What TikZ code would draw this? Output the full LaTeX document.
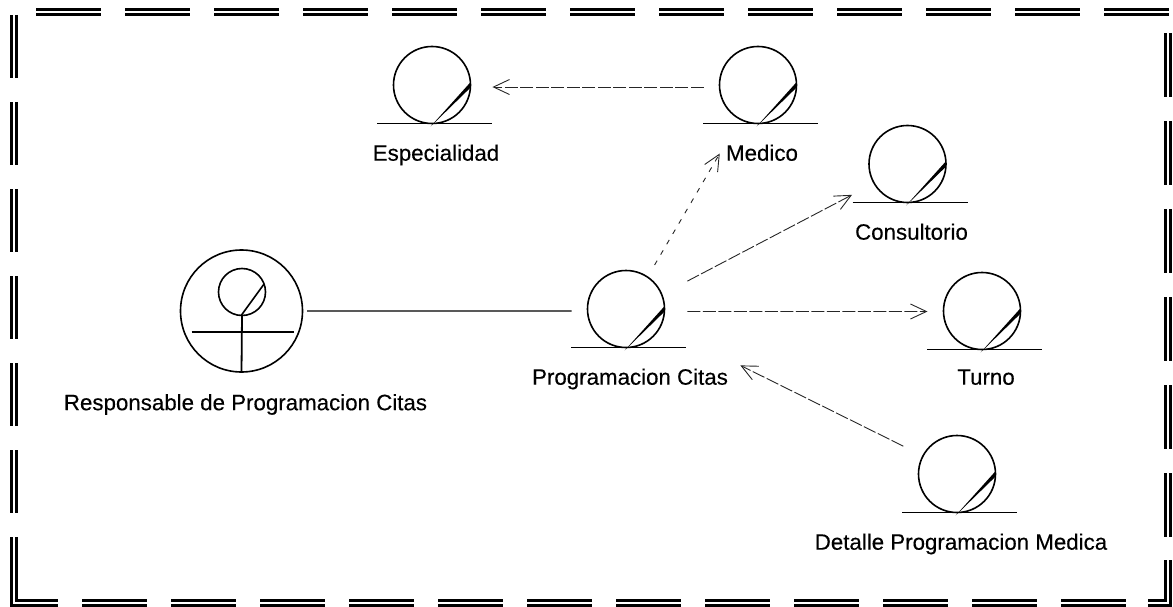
\documentclass[tikz,border=0pt]{standalone}
\usepackage{fontspec}
\setmainfont[FakeBold=0.3]{Liberation Sans}
\usetikzlibrary{arrows.meta,positioning}

\begin{document}
\begin{tikzpicture}[
    x=1pt, y=-1pt,
    node distance=21pt,
    entidad/.style={circle, draw, line width=1.6pt, minimum size=77pt, inner sep=0pt, outer sep=0pt},
    etiqueta/.style={font=\fontsize{22.3}{26}\selectfont, inner sep=0pt, text height=16pt, text depth=5pt, xshift=4pt},
    borde/.style={double, double distance=2pt, line width=3pt},
    base/.style={line width=1.3pt},
    union/.style={line width=1.1pt},
    flecha/.style={-{Straight Barb[length=16pt, width=15pt]}, line width=0.9pt, black!85, dash pattern=on 13pt off 2.5pt}
]
    \useasboundingbox (0,0) rectangle (1173,607);

    % Actor
    \node[entidad, minimum size=122pt] (actor) at (241.5,311) {};
    \node[entidad, minimum size=47pt] (cabeza) at (242,292) {};
    \draw[line width=1.8pt] (cabeza.south) -- (actor.south);
    \draw[line width=1.5pt] ([xshift=-50pt, yshift=-21pt]actor.center) -- ([xshift=52pt, yshift=-21pt]actor.center);
    \draw[line width=1.6pt] (cabeza.-92) -- (cabeza.20);
    \node[etiqueta, below=22pt of actor] (actorlab) {Responsable de Programacion Citas};

    % Entidades
    \node[entidad] (especialidad) at (432,85) {};
    \node[etiqueta, below=of especialidad] (especialidadlab) {Especialidad};
    \node[entidad] (medico) at (758,85) {};
    \node[etiqueta, below=of medico] (medicolab) {Medico};
    \node[entidad] (consultorio) at (907.5,164) {};
    \node[etiqueta, below=of consultorio] (consultoriolab) {Consultorio};
    \node[entidad] (programacion) at (626,309) {};
    \node[etiqueta, below=of programacion] (programacionlab) {Programacion Citas};
    \node[entidad] (turno) at (982,311) {};
    \node[etiqueta, below=19pt of turno] (turnolab) {Turno};
    \node[entidad] (detalle) at (957,474) {};
    \node[etiqueta, below=of detalle] (detallelab) {Detalle Programacion Medica};

    % Base y trazo de cada entidad
    \foreach \n in {especialidad,medico,consultorio,programacion,turno,detalle} {
        \draw[base] ([xshift=-55pt]\n.south) -- ([xshift=60pt]\n.south);
        \fill (\n.4) -- (\n.-4) -- ([yshift=-3pt]\n.-92) -- cycle;
    }

    % Conexiones
    \draw[union, shorten <=4.5pt, shorten >=16pt] (actor.east) -- (programacion.183);
    \draw[flecha, shorten <=16pt, shorten >=22pt] (medico.183) -- (especialidad.-3);
    \draw[flecha, dash pattern=on 5pt off 7pt, shorten <=14pt, shorten >=40pt] (programacion.56) -- (medico.-118);
    \draw[flecha, shorten <=29pt, shorten >=25pt] (programacion.22) -- (consultorio.-150);
    \draw[flecha, shorten <=23pt, shorten >=16pt] ([yshift=-.5pt]programacion.-3) -- ([yshift=-.5pt]turno.west);
    \draw[flecha, shorten <=22pt, shorten >=89pt] (detalle.152) -- (programacion.-26);

    % Marco
    \foreach \x in {36,125,...,1104}
        \draw[borde] (\x,12) -- ++(65,0);
    \foreach \y in {15,102,...,450}
        \draw[borde] (14,\y) -- ++(0,63);
    \draw[borde] (14,537) -- (14,603) -- (58,603);
    \foreach \x in {82,171,...,1070}
        \draw[borde] (\x,603) -- ++(65,0);
    \foreach \y in {33,121,...,473}
        \draw[borde] (1168,\y) -- ++(0,64);
    \draw[borde] (1168,560) -- (1168,603) -- (1148,603);
\end{tikzpicture}
\end{document}
